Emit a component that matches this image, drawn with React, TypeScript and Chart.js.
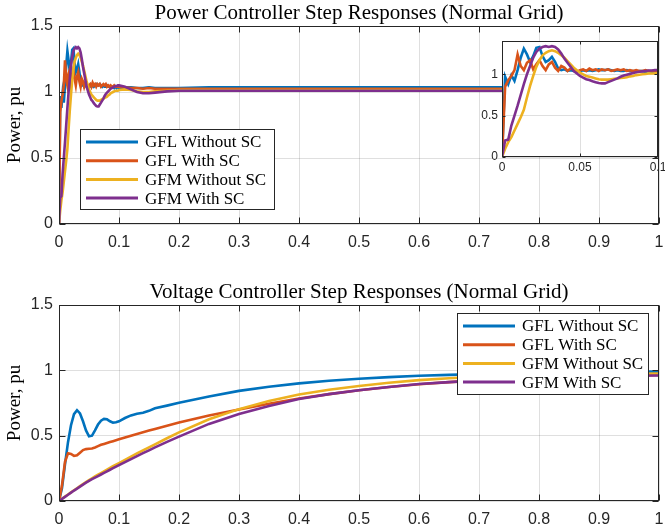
import React, { useEffect, useRef } from 'react';
import { Chart, registerables } from 'chart.js';

Chart.register(...registerables);

// ---------- data ----------
const seriesNames = ['GFL Without SC', 'GFL With SC', 'GFM Without SC', 'GFM With SC'];
const seriesColors = ['#0072BD', '#D95319', '#EDB120', '#7E2F8E'];

const powerTitle = 'Power Controller Step Responses (Normal Grid)';
const voltageTitle = 'Voltage Controller Step Responses (Normal Grid)';
const yAxisLabel = 'Power, pu';

const mainXTicks = [0, 0.1, 0.2, 0.3, 0.4, 0.5, 0.6, 0.7, 0.8, 0.9, 1];
const mainYTicks = [0, 0.5, 1, 1.5];
const insetXTicks = [0, 0.05, 0.1];
const insetYTicks = [0, 0.5, 1];

const powerTime = [
  0, 0.002, 0.004, 0.006, 0.008, 0.01, 0.012, 0.014, 0.016, 0.018,
  0.02, 0.022, 0.024, 0.026, 0.028, 0.03, 0.032, 0.034, 0.036, 0.038,
  0.04, 0.042, 0.044, 0.046, 0.048, 0.05, 0.052, 0.054, 0.056, 0.058,
  0.06, 0.062, 0.064, 0.066, 0.068, 0.07, 0.072, 0.074, 0.076, 0.078,
  0.08, 0.082, 0.084, 0.086, 0.088, 0.09, 0.092, 0.094, 0.096, 0.098,
  0.1, 0.11, 0.12, 0.13, 0.14, 0.15, 0.16, 0.18, 0.2, 0.25,
  0.3, 0.4, 0.5, 0.6, 0.7, 0.8, 0.9, 1.0,
];

const powerGflNoSc = [
  0, 0.97, 0.88, 0.99, 0.92, 1.05, 1.2, 1.31, 1.24, 1.15,
  1.22, 1.32, 1.33, 1.22, 1.15, 1.17, 1.21, 1.15, 1.07, 1.05,
  1.06, 1.04, 1.05, 1.04, 1.03, 1.04, 1.05, 1.04, 1.05, 1.04,
  1.05, 1.06, 1.05, 1.05, 1.06, 1.05, 1.04, 1.05, 1.04, 1.04,
  1.05, 1.04, 1.04, 1.03, 1.04, 1.04, 1.03, 1.04, 1.03, 1.04,
  1.03, 1.035, 1.035, 1.03, 1.03, 1.035, 1.03, 1.03, 1.03, 1.035,
  1.035, 1.035, 1.035, 1.035, 1.035, 1.035, 1.035, 1.035,
];

const powerGflSc = [
  0, 0.85, 0.93, 0.98, 1.05, 1.24, 1.1, 1.05, 1.14, 1.17,
  1.06, 1.12, 1.17, 1.1, 1.05, 1.12, 1.15, 1.08, 1.04, 1.1,
  1.08, 1.04, 1.07, 1.06, 1.03, 1.05, 1.06, 1.04, 1.07, 1.05,
  1.06, 1.04, 1.06, 1.05, 1.06, 1.04, 1.05, 1.06, 1.05, 1.06,
  1.04, 1.05, 1.04, 1.05, 1.04, 1.04, 1.05, 1.04, 1.04, 1.04,
  1.04, 1.035, 1.03, 1.03, 1.025, 1.03, 1.025, 1.025, 1.025, 1.025,
  1.025, 1.025, 1.025, 1.025, 1.025, 1.025, 1.025, 1.025,
];

const powerGfmNoSc = [
  0, 0.1, 0.18, 0.24, 0.32, 0.4, 0.48, 0.57, 0.72, 0.86,
  0.98, 1.09, 1.17, 1.23, 1.26, 1.28, 1.29, 1.28, 1.26, 1.23,
  1.2, 1.16, 1.12, 1.08, 1.05, 1.02, 1.0, 0.98, 0.97, 0.96,
  0.95, 0.94, 0.935, 0.935, 0.935, 0.94, 0.945, 0.95, 0.955, 0.96,
  0.965, 0.975, 0.98, 0.99, 0.995, 1.0, 1.005, 1.01, 1.01, 1.01,
  1.015, 1.02, 1.015, 1.005, 1.0, 1.0, 1.005, 1.01, 1.015, 1.015,
  1.015, 1.015, 1.015, 1.015, 1.015, 1.015, 1.015, 1.015,
];

const powerGfmSc = [
  0, 0.2, 0.21, 0.38, 0.5, 0.62, 0.75, 0.88, 1.0, 1.1,
  1.2, 1.27, 1.31, 1.33, 1.34, 1.33, 1.34, 1.33, 1.3, 1.25,
  1.19, 1.14, 1.09, 1.04, 1.01, 0.98, 0.96, 0.94, 0.93, 0.915,
  0.905, 0.895, 0.89, 0.89, 0.905, 0.92, 0.935, 0.95, 0.97, 0.985,
  0.995, 1.005, 1.015, 1.025, 1.03, 1.035, 1.04, 1.045, 1.045, 1.05,
  1.05, 1.04, 1.02, 1.0, 0.99, 0.99, 0.995, 1.005, 1.01, 1.01,
  1.01, 1.01, 1.01, 1.01, 1.01, 1.01, 1.01, 1.01,
];

const voltageTime = [
  0, 0.005, 0.01, 0.015, 0.02, 0.025, 0.03, 0.035, 0.04, 0.045,
  0.05, 0.055, 0.06, 0.065, 0.07, 0.075, 0.08, 0.085, 0.09, 0.095,
  0.1, 0.11, 0.12, 0.13, 0.14, 0.15, 0.16, 0.18, 0.2, 0.25,
  0.3, 0.35, 0.4, 0.45, 0.5, 0.55, 0.6, 0.65, 0.7, 0.75,
  0.8, 0.85, 0.9, 0.95, 1.0,
];

const voltageGflNoSc = [
  0, 0.1, 0.28, 0.45, 0.58, 0.665, 0.695, 0.67, 0.61, 0.54,
  0.495, 0.5, 0.54, 0.585, 0.615, 0.628, 0.625, 0.61, 0.6, 0.602,
  0.61, 0.635, 0.655, 0.668, 0.675, 0.69, 0.71, 0.73, 0.752, 0.8,
  0.843, 0.875, 0.9, 0.92, 0.936, 0.948, 0.958, 0.965, 0.971, 0.976,
  0.98, 0.983, 0.986, 0.988, 0.99,
];

const voltageGflSc = [
  0, 0.12, 0.3, 0.365, 0.36, 0.345, 0.35, 0.37, 0.39, 0.397,
  0.4, 0.402, 0.41, 0.42, 0.43, 0.437, 0.444, 0.451, 0.458, 0.465,
  0.472, 0.486, 0.5, 0.513, 0.526, 0.539, 0.551, 0.576, 0.6, 0.655,
  0.7, 0.745, 0.785, 0.818, 0.848, 0.872, 0.893, 0.91, 0.923, 0.934,
  0.943, 0.95, 0.955, 0.96, 0.964,
];

const voltageGfmNoSc = [
  0, 0.017, 0.034, 0.05, 0.066, 0.082, 0.098, 0.114, 0.13, 0.145,
  0.16, 0.174, 0.188, 0.201, 0.214, 0.227, 0.24, 0.253, 0.266, 0.278,
  0.29, 0.315, 0.34, 0.364, 0.388, 0.411, 0.434, 0.48, 0.525, 0.625,
  0.703, 0.765, 0.815, 0.852, 0.88, 0.905, 0.925, 0.94, 0.951, 0.959,
  0.965, 0.969, 0.972, 0.974, 0.976,
];

const voltageGfmSc = [
  0, 0.016, 0.032, 0.048, 0.064, 0.08, 0.095, 0.11, 0.125, 0.14,
  0.154, 0.167, 0.179, 0.191, 0.203, 0.215, 0.227, 0.239, 0.251, 0.263,
  0.275, 0.298, 0.321, 0.344, 0.366, 0.388, 0.41, 0.452, 0.493, 0.59,
  0.665, 0.727, 0.78, 0.818, 0.848, 0.873, 0.895, 0.91, 0.923, 0.934,
  0.942, 0.949, 0.954, 0.958, 0.961,
];

// ---------- styling ----------
const AXIS_COLOR = '#262626';
const GRID_COLOR = 'rgba(38,38,38,0.15)';
const SERIF = '"Liberation Serif", "Times New Roman", serif';
const SANS = '"Liberation Sans", Arial, sans-serif';
const LINE_W = 2.6;

function fmt(v: number) {
  return String(Math.round(v * 1000) / 1000);
}

function buildDatasets(time: number[], series: number[][]) {
  return series.map((vals, i) => ({
    label: seriesNames[i],
    data: time.map((t, k) => ({ x: t, y: vals[k] })),
    borderColor: seriesColors[i],
    backgroundColor: seriesColors[i],
    borderWidth: LINE_W,
    pointRadius: 0,
    tension: 0,
    fill: false,
    order: 4 - i,
  }));
}

type LegendBox = { x: number; y: number; w: number; h: number };
type DecorCfg = {
  title?: string;
  ylabel?: string;
  legend?: LegendBox;
  xTicks: number[];
  yTicks: number[];
  tickLen: number;
  fillArea?: boolean;
};

function makeDecor(cfg: DecorCfg) {
  return {
    id: 'decor',
    beforeDraw(chart: any) {
      if (!cfg.fillArea) return;
      const { ctx, chartArea: a } = chart;
      ctx.save();
      ctx.fillStyle = '#ffffff';
      ctx.fillRect(a.left, a.top, a.right - a.left, a.bottom - a.top);
      ctx.restore();
    },
    afterDraw(chart: any) {
      const { ctx, chartArea: a, scales } = chart;
      const xs = scales.x;
      const ys = scales.y;
      ctx.save();
      // frame
      ctx.strokeStyle = AXIS_COLOR;
      ctx.lineWidth = 1;
      const L = Math.round(a.left) + 0.5;
      const R = Math.round(a.right) - 0.5;
      const T = Math.round(a.top) + 0.5;
      const B = Math.round(a.bottom) - 0.5;
      ctx.strokeRect(L, T, R - L, B - T);
      // inward ticks
      ctx.beginPath();
      cfg.xTicks.forEach((v) => {
        const p = Math.round(xs.getPixelForValue(v)) + 0.5;
        ctx.moveTo(p, B);
        ctx.lineTo(p, B - cfg.tickLen);
        ctx.moveTo(p, T);
        ctx.lineTo(p, T + cfg.tickLen);
      });
      cfg.yTicks.forEach((v) => {
        const p = Math.round(ys.getPixelForValue(v)) + 0.5;
        ctx.moveTo(L, p);
        ctx.lineTo(L + cfg.tickLen, p);
        ctx.moveTo(R, p);
        ctx.lineTo(R - cfg.tickLen, p);
      });
      ctx.stroke();

      // title
      if (cfg.title) {
        ctx.fillStyle = '#000';
        ctx.font = `21px ${SERIF}`;
        ctx.textAlign = 'center';
        ctx.textBaseline = 'alphabetic';
        ctx.fillText(cfg.title, (a.left + a.right) / 2, a.top - 7);
      }
      // y label
      if (cfg.ylabel) {
        ctx.save();
        ctx.translate(20, (a.top + a.bottom) / 2);
        ctx.rotate(-Math.PI / 2);
        ctx.fillStyle = '#000';
        ctx.font = `19px ${SERIF}`;
        ctx.textAlign = 'center';
        ctx.textBaseline = 'alphabetic';
        ctx.fillText(cfg.ylabel, 0, 0);
        ctx.restore();
      }
      // legend
      if (cfg.legend) {
        const lg = cfg.legend;
        ctx.fillStyle = '#fff';
        ctx.fillRect(lg.x, lg.y, lg.w, lg.h);
        ctx.strokeStyle = AXIS_COLOR;
        ctx.lineWidth = 1;
        ctx.strokeRect(lg.x + 0.5, lg.y + 0.5, lg.w, lg.h);
        ctx.font = `17px ${SERIF}`;
        ctx.textAlign = 'left';
        ctx.textBaseline = 'middle';
        seriesNames.forEach((name, i) => {
          const ry = lg.y + 13 + i * 18.7;
          ctx.strokeStyle = seriesColors[i];
          ctx.lineWidth = LINE_W + 0.4;
          ctx.beginPath();
          ctx.moveTo(lg.x + 6, ry);
          ctx.lineTo(lg.x + 58, ry);
          ctx.stroke();
          ctx.fillStyle = '#000';
          ctx.fillText(name, lg.x + 65, ry + 1);
        });
      }
      ctx.restore();
    },
  };
}

type AxisCfg = {
  xMin: number; xMax: number; xStep: number;
  yMin: number; yMax: number; yStep: number;
  yWidth: number; xHeight: number;
  padding: { top: number; right: number; bottom: number; left: number };
  fontSize: number; xPad: number; yPad: number;
};

function buildOptions(c: AxisCfg) {
  const font = { family: SANS, size: c.fontSize };
  return {
    responsive: false,
    maintainAspectRatio: false,
    animation: false,
    events: [],
    layout: { padding: c.padding },
    plugins: {
      legend: { display: false },
      title: { display: false },
      tooltip: { enabled: false },
    },
    scales: {
      x: {
        type: 'linear',
        min: c.xMin,
        max: c.xMax,
        afterFit: (s: any) => { s.height = c.xHeight; },
        ticks: {
          stepSize: c.xStep,
          includeBounds: false,
          autoSkip: false,
          maxRotation: 0,
          font,
          color: AXIS_COLOR,
          padding: c.xPad,
          callback: (v: any) => fmt(Number(v)),
        },
        grid: { color: GRID_COLOR, drawTicks: false, lineWidth: 1 },
        border: { display: false },
      },
      y: {
        type: 'linear',
        min: c.yMin,
        max: c.yMax,
        afterFit: (s: any) => { s.width = c.yWidth; },
        ticks: {
          stepSize: c.yStep,
          includeBounds: false,
          autoSkip: false,
          font,
          color: AXIS_COLOR,
          padding: c.yPad,
          callback: (v: any) => fmt(Number(v)),
        },
        grid: { color: GRID_COLOR, drawTicks: false, lineWidth: 1 },
        border: { display: false },
      },
    },
  };
}

function ChartCanvas(props: { left: number; top: number; width: number; height: number; build: () => any }) {
  const ref = useRef<HTMLCanvasElement>(null);
  useEffect(() => {
    const chart = new Chart(ref.current as HTMLCanvasElement, props.build());
    return () => chart.destroy();
  }, []);
  return (
    <canvas
      ref={ref}
      width={props.width}
      height={props.height}
      style={{ position: 'absolute', left: props.left, top: props.top, width: props.width, height: props.height }}
    />
  );
}

const powerSeries = [powerGflNoSc, powerGflSc, powerGfmNoSc, powerGfmSc];
const voltageSeries = [voltageGflNoSc, voltageGflSc, voltageGfmNoSc, voltageGfmSc];

export default function App() {
  const buildTop = () => ({
    type: 'line',
    data: { datasets: buildDatasets(powerTime, powerSeries) },
    options: buildOptions({
      xMin: 0, xMax: 1, xStep: 0.1, yMin: 0, yMax: 1.5, yStep: 0.5,
      yWidth: 59, xHeight: 38,
      padding: { top: 26, right: 31, bottom: 0, left: 0 },
      fontSize: 16, xPad: 9, yPad: 6,
    }),
    plugins: [makeDecor({
      title: powerTitle, ylabel: yAxisLabel,
      legend: { x: 80, y: 129, w: 194, h: 80 },
      xTicks: mainXTicks, yTicks: mainYTicks, tickLen: 6,
    })],
  });

  const buildInset = () => ({
    type: 'line',
    data: { datasets: buildDatasets(powerTime, powerSeries) },
    options: buildOptions({
      xMin: 0, xMax: 0.1, xStep: 0.05, yMin: 0, yMax: 1.4, yStep: 0.5,
      yWidth: 32, xHeight: 23,
      padding: { top: 11, right: 12, bottom: 0, left: 0 },
      fontSize: 12, xPad: 3, yPad: 4,
    }),
    plugins: [makeDecor({
      xTicks: insetXTicks, yTicks: insetYTicks, tickLen: 3, fillArea: true,
    })],
  });

  const buildBottom = () => ({
    type: 'line',
    data: { datasets: buildDatasets(voltageTime, voltageSeries) },
    options: buildOptions({
      xMin: 0, xMax: 1, xStep: 0.1, yMin: 0, yMax: 1.5, yStep: 0.5,
      yWidth: 59, xHeight: 28,
      padding: { top: 43, right: 31, bottom: 0, left: 0 },
      fontSize: 16, xPad: 9, yPad: 6,
    }),
    plugins: [makeDecor({
      title: voltageTitle, ylabel: yAxisLabel,
      legend: { x: 457 - 0, y: 313 - 262, w: 191, h: 81 },
      xTicks: mainXTicks, yTicks: mainYTicks, tickLen: 6,
    })],
  });

  return (
    <div style={{ position: 'fixed', left: 0, top: 0, width: 665, height: 529, overflow: 'hidden', background: '#fff' }}>
      <ChartCanvas left={0} top={0} width={690} height={262} build={buildTop} />
      <ChartCanvas left={0} top={262} width={690} height={267} build={buildBottom} />
      <ChartCanvas left={470} top={30} width={200} height={150} build={buildInset} />
    </div>
  );
}
